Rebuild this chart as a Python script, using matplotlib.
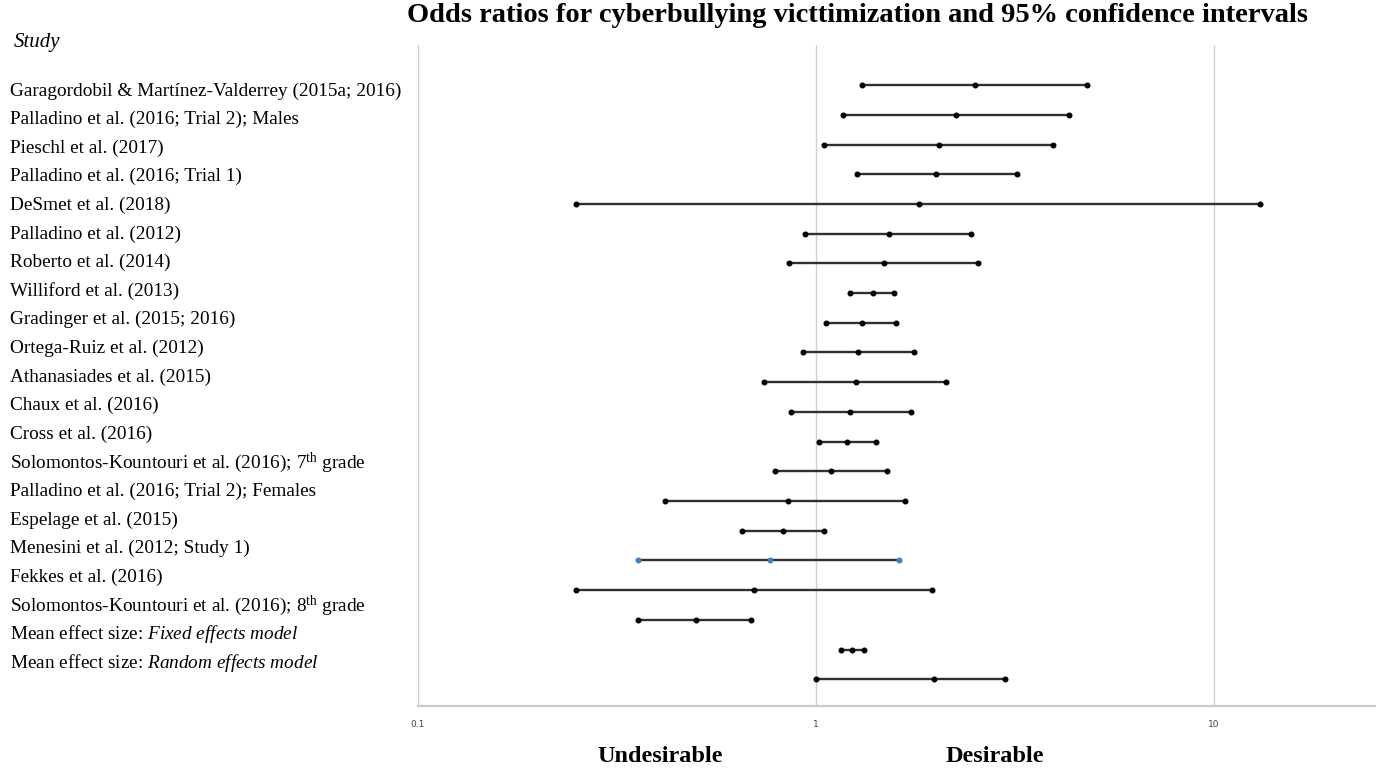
"""
Forest plot: odds ratios for cyberbullying victimization
"""
import matplotlib
matplotlib.use('Agg')
import matplotlib.pyplot as plt
import numpy as np

# DATA
#####################
studies = [
    'Garagordobil & Martínez-Valderrey (2015a; 2016)',
    'Palladino et al. (2016; Trial 2); Males',
    'Pieschl et al. (2017)',
    'Palladino et al. (2016; Trial 1)',
    'DeSmet et al. (2018)',
    'Palladino et al. (2012)',
    'Roberto et al. (2014)',
    'Williford et al. (2013)',
    'Gradinger et al. (2015; 2016)',
    'Ortega-Ruiz et al. (2012)',
    'Athanasiades et al. (2015)',
    'Chaux et al. (2016)',
    'Cross et al. (2016)',
    r'Solomontos-Kountouri et al. (2016); 7$^{\mathrm{th}}$ grade',
    'Palladino et al. (2016; Trial 2); Females',
    'Espelage et al. (2015)',
    'Menesini et al. (2012; Study 1)',
    'Fekkes et al. (2016)',
    r'Solomontos-Kountouri et al. (2016); 8$^{\mathrm{th}}$ grade',
    r'Mean effect size: $\mathit{Fixed\ effects\ model}$',
    r'Mean effect size: $\mathit{Random\ effects\ model}$',
]

# whiskers (one per row, in drawing order)
or_low = [1.31, 1.17, 1.05, 1.27, 0.249, 0.938, 0.855, 1.22, 1.06, 0.927, 0.74,
          0.865, 1.02, 0.79, 0.417, 0.652, 0.357, 0.249, 0.357, 1.156, 1.0]
or_mid = [2.51, 2.25, 2.04, 2.01, 1.82, 1.53, 1.48, 1.39, 1.305, 1.275, 1.26,
          1.22, 1.20, 1.09, 0.85, 0.826, 0.766, 0.698, 0.499, 1.23, 1.98]
or_high = [4.81, 4.33, 3.95, 3.2, 13.1, 2.45, 2.56, 1.57, 1.59, 1.77, 2.12,
           1.74, 1.42, 1.51, 1.68, 1.05, 1.62, 1.96, 0.686, 1.32, 2.99]
blue_row = 16

xticks = [0.1, 1, 10]
xtick_labels = ['0.1', '1', '10']

# STYLE
#####################
plt.rcParams['font.family'] = 'Liberation Serif'
plt.rcParams['mathtext.fontset'] = 'custom'
plt.rcParams['mathtext.rm'] = 'Liberation Serif'
plt.rcParams['mathtext.it'] = 'Liberation Serif:italic'
plt.rcParams['mathtext.bf'] = 'Liberation Serif:bold'

W, H = 1376, 768
fig = plt.figure(figsize=(W / 100, H / 100), dpi=100)
ax = fig.add_axes([418 / W, 1 - 706 / H, 1 - 418 / W, (706 - 45) / H])

n = len(or_mid)
rows = np.arange(n)
for i in rows:
    mcol = '#4a7ebb' if i == blue_row else 'black'
    ax.plot([or_low[i], or_mid[i], or_high[i]], [i, i, i], color='#303030', lw=1.7,
            marker='o', ms=3.3, mfc=mcol, mec=mcol, solid_capstyle='butt')

ax.set_xscale('log')
ax.set_xlim(0.1, 25.6)
ax.set_ylim(20.9, -1.35)
ax.set_yticks([])
ax.set_xticks(xticks)
ax.set_xticklabels(xtick_labels, fontsize=6.5, color='#444444', family='Liberation Sans Narrow')
ax.xaxis.set_minor_locator(matplotlib.ticker.NullLocator())
ax.tick_params(axis='x', length=0, pad=10)
ax.grid(axis='x', color='#d0d0d0', lw=1)
ax.set_axisbelow(True)
for s in ['top', 'right']:
    ax.spines[s].set_visible(False)
ax.spines['left'].set_color('#d0d0d0')
ax.spines['bottom'].set_color('#cccccc')
ax.spines['bottom'].set_linewidth(1.6)

# study labels (own spacing, left column)
fig.text(14 / W, 1 - 43 / H, 'Study', fontsize=15, style='italic', va='center', ha='left')
for i, name in enumerate(studies):
    fig.text(10 / W, 1 - (91 + 28.6 * i) / H, name, fontsize=13.9, va='center', ha='left')

fig.text(857 / W, 1 - 16 / H,
         'Odds ratios for cyberbullying victtimization and 95% confidence intervals',
         fontsize=20.5, weight='bold', ha='center', va='center')
fig.text(660 / W, 1 - 756 / H, 'Undesirable', fontsize=17.5, weight='bold', ha='center', va='center')
fig.text(995 / W, 1 - 756 / H, 'Desirable', fontsize=17.5, weight='bold', ha='center', va='center')

plt.savefig('out.png', dpi=100)
